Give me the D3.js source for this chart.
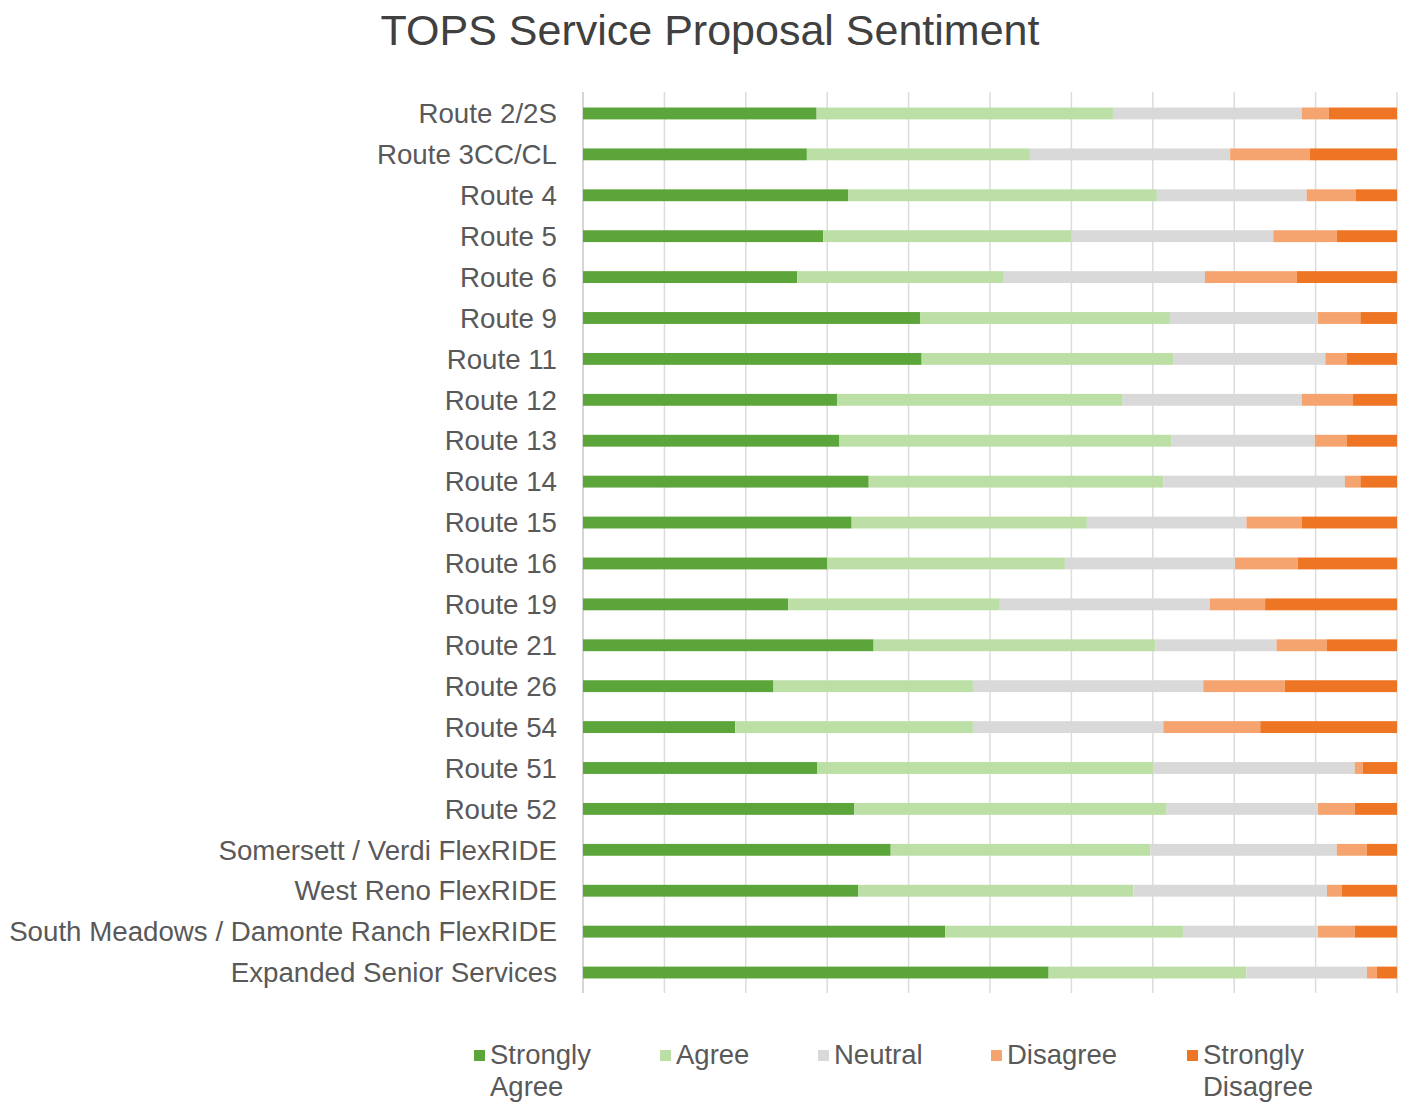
<!DOCTYPE html>
<html>
<head>
<meta charset="utf-8">
<script src="https://cdn.jsdelivr.net/npm/d3@7"></script>
<style>
  html, body { margin: 0; padding: 0; background: #ffffff; }
  svg { display: block; font-family: "Liberation Sans", Arial, sans-serif; }
</style>
</head>
<body>
<svg id="chart" width="1405" height="1104"></svg>
<script>
// Survey responses per service proposal (share of respondents, %)
const categories = [
  "Route 2/2S", "Route 3CC/CL", "Route 4", "Route 5", "Route 6", "Route 9",
  "Route 11", "Route 12", "Route 13", "Route 14", "Route 15", "Route 16",
  "Route 19", "Route 21", "Route 26", "Route 54", "Route 51", "Route 52",
  "Somersett / Verdi FlexRIDE", "West Reno FlexRIDE",
  "South Meadows / Damonte Ranch FlexRIDE", "Expanded Senior Services"
];

const stronglyAgree    = [28.7, 27.5, 32.6, 29.5, 26.3, 41.4, 41.6, 31.2, 31.5, 35.1, 33.0, 30.0, 25.2, 35.7, 23.4, 18.7, 28.8, 33.3, 37.8, 33.8, 44.5, 57.2];
const agree            = [36.4, 27.4, 37.9, 30.5, 25.3, 30.7, 30.9, 35.1, 40.8, 36.2, 28.9, 29.2, 26.0, 34.6, 24.5, 29.2, 41.3, 38.4, 31.9, 33.8, 29.2, 24.3];
const neutral          = [23.2, 24.6, 18.4, 24.8, 24.8, 18.2, 18.7, 22.0, 17.6, 22.3, 19.6, 20.9, 25.8, 14.9, 28.3, 23.4, 24.7, 18.6, 22.9, 23.8, 16.6, 14.8];
const disagree         = [ 3.3,  9.8,  6.0,  7.8, 11.3,  5.2,  2.6,  6.3,  3.9,  1.9,  6.8,  7.7,  6.8,  6.2, 10.0, 11.9,  1.0,  4.5,  3.7,  1.8,  4.5,  1.2];
const stronglyDisagree = [ 8.4, 10.7,  5.1,  7.4, 12.3,  4.5,  6.2,  5.4,  6.2,  4.5, 11.7, 12.2, 16.2,  8.6, 13.8, 16.8,  4.2,  5.2,  3.7,  6.8,  5.2,  2.5];

const seriesNames = ["Strongly Agree", "Agree", "Neutral", "Disagree", "Strongly Disagree"];
const seriesColors = ["#5ca53b", "#bcdfa6", "#d9d9d9", "#f5a46f", "#ee7524"];
const xTicks = [0, 10, 20, 30, 40, 50, 60, 70, 80, 90, 100];

// Build rows and normalise each to 100%
const seriesValues = [stronglyAgree, agree, neutral, disagree, stronglyDisagree];
const rows = categories.map((c, i) => {
  const row = { category: c };
  const total = d3.sum(seriesValues, s => s[i]);
  seriesNames.forEach((n, k) => { row[n] = seriesValues[k][i] / total * 100; });
  return row;
});

const svg = d3.select("#chart");
const margin = { left: 583, right: 8, top: 93, bottom: 111 };
const W = 1405, H = 1104;

const x = d3.scaleLinear().domain([0, 100]).range([margin.left, W - margin.right]);
const y = d3.scaleBand().domain(categories).range([margin.top, H - margin.bottom]).paddingInner(0.71).paddingOuter(0.355);
const color = d3.scaleOrdinal().domain(seriesNames).range(seriesColors);

// Title
svg.append("text")
  .attr("x", 710).attr("y", 45)
  .attr("text-anchor", "middle")
  .attr("font-size", 43)
  .attr("fill", "#404040")
  .text("TOPS Service Proposal Sentiment");

// Vertical gridlines
svg.append("g")
  .selectAll("line")
  .data(xTicks)
  .join("line")
  .attr("x1", d => x(d)).attr("x2", d => x(d))
  .attr("y1", margin.top - 1).attr("y2", H - margin.bottom)
  .attr("stroke", d => d === 0 ? "#c8c8c8" : "#dcdcdc")
  .attr("stroke-width", 1.5);

// Stacked bars
const stacked = d3.stack().keys(seriesNames)(rows);
svg.append("g")
  .selectAll("g")
  .data(stacked)
  .join("g")
  .attr("fill", d => color(d.key))
  .selectAll("rect")
  .data(d => d)
  .join("rect")
  .attr("x", d => x(d[0]))
  .attr("width", d => x(d[1]) - x(d[0]))
  .attr("y", d => y(d.data.category))
  .attr("height", y.bandwidth());

// Category axis
const yAxis = svg.append("g")
  .attr("transform", `translate(${margin.left - 26},0)`)
  .call(d3.axisLeft(y).tickSize(0).tickPadding(0));
yAxis.select(".domain").remove();
yAxis.selectAll("text")
  .attr("font-size", 27.7)
  .attr("font-family", "'Liberation Sans', Arial, sans-serif")
  .attr("fill", "#595959")
  .attr("dy", "0.35em");

// Legend
const legendItems = [
  { name: "Strongly Agree", lines: ["Strongly", "Agree"], x: 474 },
  { name: "Agree", lines: ["Agree"], x: 660 },
  { name: "Neutral", lines: ["Neutral"], x: 818 },
  { name: "Disagree", lines: ["Disagree"], x: 991 },
  { name: "Strongly Disagree", lines: ["Strongly", "Disagree"], x: 1187 }
];
const legend = svg.append("g");
const li = legend.selectAll("g").data(legendItems).join("g")
  .attr("transform", d => `translate(${d.x},1048)`);
li.append("rect")
  .attr("x", 0).attr("y", 2).attr("width", 11).attr("height", 11)
  .attr("fill", d => color(d.name));
li.append("text")
  .attr("x", 16).attr("y", 16)
  .attr("font-size", 27.5)
  .attr("fill", "#595959")
  .selectAll("tspan")
  .data(d => d.lines)
  .join("tspan")
  .attr("x", 16)
  .attr("dy", (d, i) => i === 0 ? 0 : 32)
  .text(d => d);
</script>
</body>
</html>
